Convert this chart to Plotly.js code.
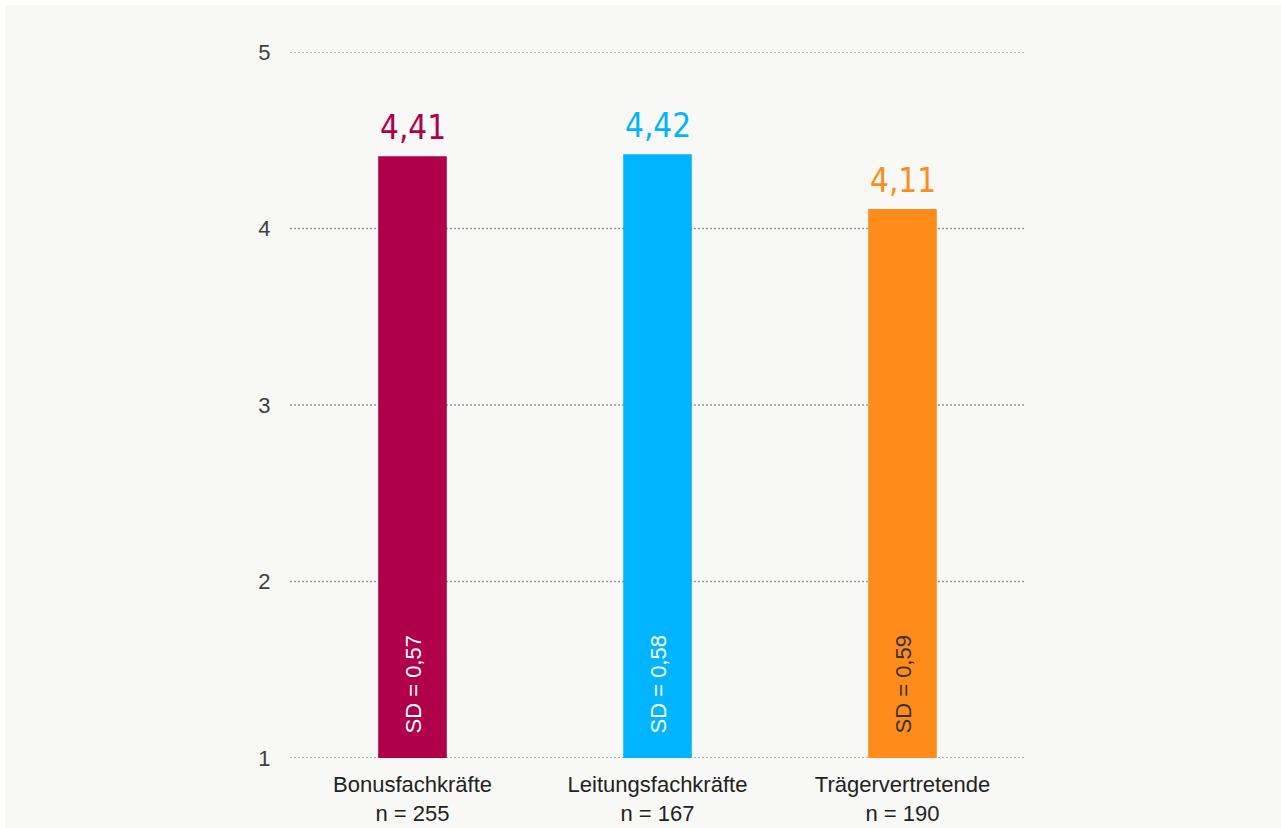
<!DOCTYPE html>
<html>
<head>
<meta charset="utf-8">
<script src="https://cdn.plot.ly/plotly-3.0.1.min.js"></script>
<style>
  html, body { margin: 0; padding: 0; background: #ffffff; }
  #chart { position: absolute; left: 5px; top: 5px; width: 1276px; height: 823px; }
</style>
</head>
<body>
<div id="chart"></div>
<script>
// ---- data ----
const categories = ["Bonusfachkräfte", "Leitungsfachkräfte", "Trägervertretende"];
const sampleSizes = [255, 167, 190];
const means = [4.41, 4.42, 4.11];
const meanLabels = ["4,41", "4,42", "4,11"];
const sdLabels = ["SD = 0,57", "SD = 0,58", "SD = 0,59"];
const yTicks = [1, 2, 3, 4, 5];

// ---- styles ----
const barColors = ["#b0004a", "#00b4ff", "#ff8c1a"];
const sdColors = ["#ffffff", "#ffffff", "#333333"];

const tickText = categories.map((c, i) => c + "<br>n = " + sampleSizes[i]);

const trace = {
  type: "bar",
  x: categories,
  y: means.map(v => v - 1),
  base: 1,
  width: 0.28,
  marker: { color: barColors },
  hoverinfo: "none"
};

const annotations = [];
categories.forEach((c, i) => {
  annotations.push({
    x: c, y: means[i], xref: "x", yref: "y",
    text: meanLabels[i], showarrow: false,
    yanchor: "bottom", yshift: 7,
    font: { family: "DejaVu Sans Condensed, DejaVu Sans, sans-serif", size: 33, color: barColors[i] }
  });
  annotations.push({
    x: c, y: 1, xref: "x", yref: "y",
    text: sdLabels[i], showarrow: false, textangle: -90,
    yanchor: "bottom", yshift: 22,
    font: { family: "Liberation Sans, Arial, sans-serif", size: 22, color: sdColors[i] }
  });
});

// dotted grid lines as shapes (so the edge lines at 1 and 5 are drawn too)
const shapes = yTicks.map(v => ({
  type: "line", xref: "paper", yref: "y",
  x0: 0, x1: 1, y0: v, y1: v,
  layer: "below",
  line: { color: "#9a9a9a", width: 1.5, dash: "2px,2px" }
}));

const layout = {
  width: 1276, height: 823,
  paper_bgcolor: "#f8f8f6",
  plot_bgcolor: "#f8f8f6",
  margin: { l: 285, r: 256, t: 47, b: 70 },
  showlegend: false,
  font: { family: "Liberation Sans, Arial, sans-serif", size: 22, color: "#222222" },
  xaxis: {
    type: "category",
    tickvals: categories,
    ticktext: tickText,
    showgrid: false, zeroline: false, showline: false,
    ticks: "outside", ticklen: 7, tickcolor: "rgba(0,0,0,0)",
    tickfont: { size: 22, color: "#222222" }
  },
  yaxis: {
    range: [1, 5],
    tickvals: yTicks,
    ticktext: yTicks.map(String),
    showgrid: false,
    zeroline: false, showline: false,
    ticks: "outside", ticklen: 14, tickcolor: "rgba(0,0,0,0)",
    tickfont: { size: 22, color: "#404040" }
  },
  shapes: shapes,
  annotations: annotations
};

Plotly.newPlot("chart", [trace], layout, { displayModeBar: false, staticPlot: true });
</script>
</body>
</html>
